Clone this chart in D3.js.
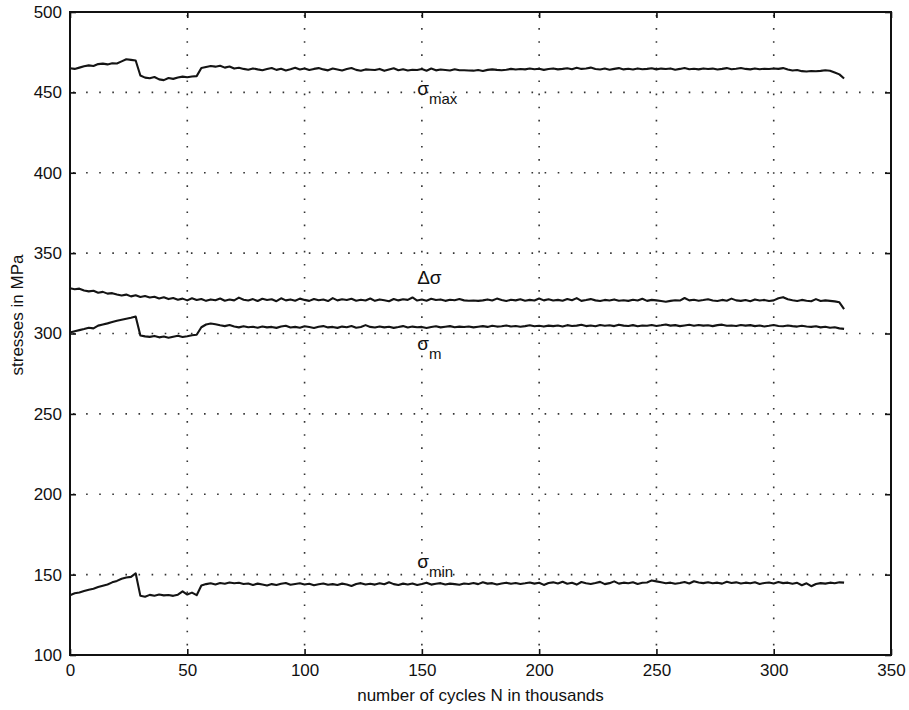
<!DOCTYPE html>
<html>
<head>
<meta charset="utf-8">
<script src="https://cdn.jsdelivr.net/npm/d3@7"></script>
<style>
    body { margin: 0; background: #fff; }
    .tick text { font-family: "Liberation Sans", Arial, sans-serif; font-size: 17px; fill: #111; }
    .axis-label { font-family: "Liberation Sans", Arial, sans-serif; font-size: 17px; fill: #111; }
    .curve-label { font-family: "Liberation Sans", Arial, sans-serif; fill: #111; }
    .grid line { stroke: #333; stroke-width: 1.6; stroke-dasharray: 1.6, 11.5; }
    .series { fill: none; stroke: #141414; stroke-width: 2.1; stroke-linejoin: round; }
</style>
</head>
<body>
<div class="chart"></div>
<script>
// thousands of cycles at which the stresses were sampled
const cycles = [
    0, 2, 4, 6, 8, 10, 12, 14, 16, 18, 20, 22, 24, 26, 28, 30, 32, 34, 36, 38,
    40, 42, 44, 46, 48, 50, 52, 54, 56, 58, 60, 62, 64, 66, 68, 70, 72, 74, 76, 78,
    80, 82, 84, 86, 88, 90, 92, 94, 96, 98, 100, 102, 104, 106, 108, 110, 112, 114, 116, 118,
    120, 122, 124, 126, 128, 130, 132, 134, 136, 138, 140, 142, 144, 146, 148, 150, 152, 154, 156, 158,
    160, 162, 164, 166, 168, 170, 172, 174, 176, 178, 180, 182, 184, 186, 188, 190, 192, 194, 196, 198,
    200, 202, 204, 206, 208, 210, 212, 214, 216, 218, 220, 222, 224, 226, 228, 230, 232, 234, 236, 238,
    240, 242, 244, 246, 248, 250, 252, 254, 256, 258, 260, 262, 264, 266, 268, 270, 272, 274, 276, 278,
    280, 282, 284, 286, 288, 290, 292, 294, 296, 298, 300, 302, 304, 306, 308, 310, 312, 314, 316, 318,
    320, 322, 324, 326, 328, 330]

const sigmaMax = [
    465.0, 464.6, 465.4, 466.2, 466.8, 466.4, 467.6, 467.9, 467.4, 468.1, 468.0, 469.3, 470.6, 470.2, 469.8,
    460.5, 459.2, 458.8, 459.6, 458.1, 457.6, 458.9, 458.4, 459.2, 459.8, 459.4, 459.9, 460.1,
    465.2, 465.8, 466.4, 466.0, 466.6, 465.4, 466.1, 464.8, 465.3, 464.6, 464.1, 464.9, 464.3, 463.8, 464.5, 465.2,
    464.0, 464.7, 463.6, 464.4, 465.3, 464.2, 464.9, 463.9, 464.6, 465.1, 464.3, 463.7, 464.8, 464.2, 463.6, 464.5,
    465.2, 464.0, 463.5, 464.3, 464.1, 463.9, 464.6, 463.4, 464.2, 465.0, 463.8, 464.4, 463.6, 464.1, 463.9, 464.5,
    463.5, 464.8, 463.7, 464.2, 463.9, 463.6, 464.4, 463.8, 463.8, 463.6, 463.5, 463.9, 463.3, 464.0, 464.3, 464.0,
    463.8, 464.1, 464.6, 464.2, 464.5, 464.3, 464.8, 464.4, 464.7, 464.0, 464.5, 464.9, 464.3, 464.6, 465.0, 464.4,
    465.3, 464.6, 464.9, 465.4, 464.5, 464.2, 464.8, 464.1, 464.6, 465.1, 464.3, 464.7, 464.2, 464.9, 464.4, 464.6,
    465.0, 464.3, 464.8, 464.5, 464.9, 464.1, 464.6, 465.2, 464.4, 464.7, 464.3, 464.9, 464.5, 464.8, 464.2, 464.6,
    465.1, 464.4, 464.7, 465.2, 464.6, 464.3, 464.9, 464.4, 464.7, 464.5, 464.9, 464.6, 465.1, 464.2, 463.6, 463.9,
    463.2, 463.0, 463.3, 463.1, 463.4, 463.8, 463.5, 462.4, 461.2, 458.6]

const deltaSigma = [
    328.2, 327.5, 327.9, 326.8, 326.2, 326.6, 325.4, 325.9, 324.8, 325.1, 324.3, 323.6, 324.2, 323.1, 323.8, 322.7, 323.3, 322.4, 322.9, 321.8,
    322.5, 321.4, 322.1, 321.0, 321.7, 320.6, 321.9, 320.8, 321.5, 320.3, 321.2, 320.7, 321.8, 320.4, 321.1, 320.6, 322.3, 321.0, 320.5, 321.4,
    320.2, 321.6, 320.8, 321.3, 320.1, 321.9, 320.6, 321.2, 320.4, 321.7, 320.9, 320.3, 321.5, 320.7, 321.1, 320.2, 322.0, 320.6, 321.3, 320.8,
    321.6, 320.4, 321.0, 320.5, 321.8, 320.3, 321.2, 320.7, 320.1, 321.5, 320.6, 321.3, 320.9, 322.4, 320.5, 321.1, 320.4, 321.6, 320.8, 321.2,
    320.3, 321.0, 320.7, 321.4, 320.6, 320.4, 320.5, 320.3, 320.6, 321.2, 320.5, 321.7, 320.8, 320.2, 321.0, 320.6, 321.3, 320.4, 320.9, 320.5,
    321.8, 320.6, 321.3, 320.5, 320.9, 320.4, 321.5, 320.7, 322.0, 320.3, 320.8, 321.4, 320.6, 320.2, 320.9, 320.5, 321.2, 320.4, 320.7, 320.3,
    321.0, 320.5, 321.6, 320.3, 320.9, 320.6, 320.2, 319.8, 320.3, 320.7, 320.5, 322.1, 320.6, 321.0, 320.4, 320.8, 321.3, 320.5, 320.2, 320.9,
    320.4, 321.7, 320.6, 320.3, 320.8, 320.1, 321.2, 320.5, 320.9, 320.2, 320.6, 321.9, 322.6, 321.3, 320.7, 320.2, 320.9, 320.4, 320.1, 321.4,
    320.2, 320.6, 320.3, 320.0, 319.4, 315.2]

const sigmaMean = [
    300.6, 301.4, 302.1, 302.8, 303.6, 303.2, 304.9, 305.6, 306.3, 307.1, 307.9, 308.6, 309.2, 309.8, 310.6,
    298.8, 298.2, 297.9, 298.5, 297.6, 298.1, 297.4, 298.0, 298.6, 297.8, 298.3, 298.9, 299.2,
    303.9, 305.6, 306.2, 305.8, 305.1, 304.6, 305.3, 304.4, 303.8, 304.5, 303.9, 304.2, 303.6, 304.4, 303.8, 304.1,
    303.5, 304.3, 304.8, 303.7, 304.1, 303.6, 304.5, 304.0, 303.4, 304.2, 304.6, 303.8, 304.1, 303.5, 304.3, 303.9, 304.7, 303.6, 304.0, 305.2,
    304.1, 303.7, 304.4, 303.8, 304.2, 303.5, 304.0, 304.6, 303.7, 304.3, 303.9, 304.1, 303.4, 304.0, 304.5, 303.8, 304.2, 304.6, 303.9, 304.3,
    304.0, 304.4, 303.8, 304.2, 304.6, 304.1, 304.8, 304.3, 304.5, 305.0, 304.4, 304.7, 304.2, 304.6, 305.1, 304.5, 304.8, 304.3, 304.9, 304.6,
    305.0, 304.4, 305.2, 304.7, 304.9, 305.4, 304.6, 305.0, 304.5, 305.3, 304.8, 305.1, 304.6, 305.5, 304.9, 304.7, 305.2, 304.5, 305.0, 304.8,
    305.3, 304.7, 305.1, 305.6, 304.9, 305.2, 304.6, 305.0, 305.4, 304.8, 305.3, 304.9, 305.1, 304.6, 305.2, 305.5, 304.8, 305.0, 304.7, 305.3,
    304.9, 305.2, 304.6, 305.0, 304.4, 304.8, 305.3, 304.7, 304.5, 305.0, 304.6, 304.3, 304.8, 304.4, 304.1, 304.5, 303.8, 304.2, 303.6, 303.9,
    303.2, 302.9]

const sigmaMin = [
    137.2, 138.4, 138.9, 139.8, 140.6, 141.2, 142.3, 143.1, 143.9, 145.2, 146.1, 147.4, 148.2, 148.6, 150.8,
    136.8, 136.2, 137.4, 136.9, 137.6, 137.1, 137.3, 136.8, 137.5, 139.6, 137.6, 138.8, 137.2,
    143.2, 144.1, 144.6, 143.9, 144.8, 144.3, 145.1, 144.6, 144.9, 144.2, 144.5, 143.6, 144.4, 143.8, 143.2, 144.1,
    143.5, 144.3, 144.8, 143.7, 144.2, 144.6, 143.9, 144.3, 143.4, 144.0, 144.5, 143.7, 144.1, 143.6, 144.4, 143.8, 142.9, 144.2, 144.7, 143.9,
    144.3, 143.8, 144.6, 144.0, 145.2, 144.1, 143.6, 144.4, 143.9, 144.5, 143.5, 144.2, 145.0, 143.8, 144.3, 144.7, 143.9, 144.4, 144.1, 143.7,
    144.5, 144.2, 144.8, 144.1, 145.3, 144.4, 144.7, 143.9, 144.5, 145.0, 144.3, 144.8, 144.2, 144.6, 145.1, 144.4, 144.9, 143.6, 144.8, 145.2,
    144.5, 145.6, 144.3, 144.9, 143.8, 145.4, 144.6, 144.2, 144.8, 145.5, 144.1, 144.7, 145.8, 144.4, 145.0, 144.6, 145.3, 144.2, 144.9, 145.1,
    146.4, 145.8, 145.2, 144.6, 145.0, 144.3, 144.8, 145.4, 144.5, 145.9, 145.1, 144.7, 145.3, 144.6, 145.0, 144.4, 145.6, 144.8, 145.2, 144.5,
    145.0, 144.6, 145.3, 144.2, 144.8, 145.1, 144.5, 145.4, 144.7, 145.0, 144.3, 144.9, 143.4, 144.6, 142.8, 144.2, 144.7, 144.4, 145.0, 144.6,
    145.2, 145.0]

const xTicks = [0, 50, 100, 150, 200, 250, 300, 350]
const yTicks = [100, 150, 200, 250, 300, 350, 400, 450, 500]

const width = 909
const height = 710
const margin = {top: 12, right: 18, bottom: 55, left: 70}

let svg = d3.select(".chart").append("svg")
    .attr("width", width)
    .attr("height", height)

let x = d3.scaleLinear().domain([0, 350]).range([margin.left, width - margin.right])
let y = d3.scaleLinear().domain([100, 500]).range([height - margin.bottom, margin.top])

// dotted grid, only on the inner ticks
let grid = svg.append("g").classed("grid", true)
grid.selectAll(".vgrid")
    .data(xTicks.slice(1, -1))
    .join("line")
    .attr("x1", d => x(d)).attr("x2", d => x(d))
    .attr("y1", y(500) + 3).attr("y2", y(100))
grid.selectAll(".hgrid")
    .data(yTicks.slice(1, -1))
    .join("line")
    .attr("class", "hgrid")
    .attr("y1", d => y(d)).attr("y2", d => y(d))
    .attr("x1", x(0) + 3).attr("x2", x(350))

// axes, ticks point inwards on all four sides
const tickLen = 6
let styleAxis = g => {
    g.select(".domain").remove()
    g.selectAll(".tick line").attr("stroke", "#111").attr("stroke-width", 1.6)
}
svg.append("g")
    .attr("transform", `translate(0,${y(100)})`)
    .call(d3.axisBottom(x).tickValues(xTicks).tickSize(-tickLen).tickPadding(9))
    .call(styleAxis)
svg.append("g")
    .attr("transform", `translate(0,${y(500)})`)
    .call(d3.axisTop(x).tickValues(xTicks).tickSize(-tickLen).tickFormat(""))
    .call(styleAxis)
svg.append("g")
    .attr("transform", `translate(${x(0)},0)`)
    .call(d3.axisLeft(y).tickValues(yTicks).tickSize(-tickLen).tickPadding(8))
    .call(styleAxis)
svg.append("g")
    .attr("transform", `translate(${x(350)},0)`)
    .call(d3.axisRight(y).tickValues(yTicks).tickSize(-tickLen).tickFormat(""))
    .call(styleAxis)

svg.append("rect")
    .attr("x", x(0)).attr("y", y(500))
    .attr("width", x(350) - x(0)).attr("height", y(100) - y(500))
    .attr("fill", "none").attr("stroke", "#111").attr("stroke-width", 2)

// the four stress histories
let line = d3.line()
    .x((d, i) => x(cycles[i]))
    .y(d => y(d))

svg.append("g")
    .selectAll("path")
    .data([sigmaMax, deltaSigma, sigmaMean, sigmaMin])
    .join("path")
    .classed("series", true)
    .attr("d", d => line(d))

// curve labels: main symbol plus optional subscript
let labels = [
    {sym: "σ", sub: "max", at: [148, 448.5]},
    {sym: "Δσ", sub: "", at: [148, 331]},
    {sym: "σ", sub: "m", at: [148, 289.5]},
    {sym: "σ", sub: "min", at: [148, 154]}
]
labels.forEach(l => {
    let t = svg.append("text")
        .classed("curve-label", true)
        .attr("x", x(l.at[0]))
        .attr("y", y(l.at[1]))
        .style("font-size", "19px")
        .text(l.sym)
    if (l.sub)
        t.append("tspan")
            .attr("dy", 9)
            .style("font-size", "15px")
            .text(l.sub)
})

svg.append("text")
    .classed("axis-label", true)
    .attr("x", x(175))
    .attr("y", 701)
    .attr("text-anchor", "middle")
    .text("number of cycles N in thousands")

svg.append("text")
    .classed("axis-label", true)
    .attr("transform", "translate(23,315) rotate(-90)")
    .attr("text-anchor", "middle")
    .text("stresses in MPa")
</script>
</body>
</html>
